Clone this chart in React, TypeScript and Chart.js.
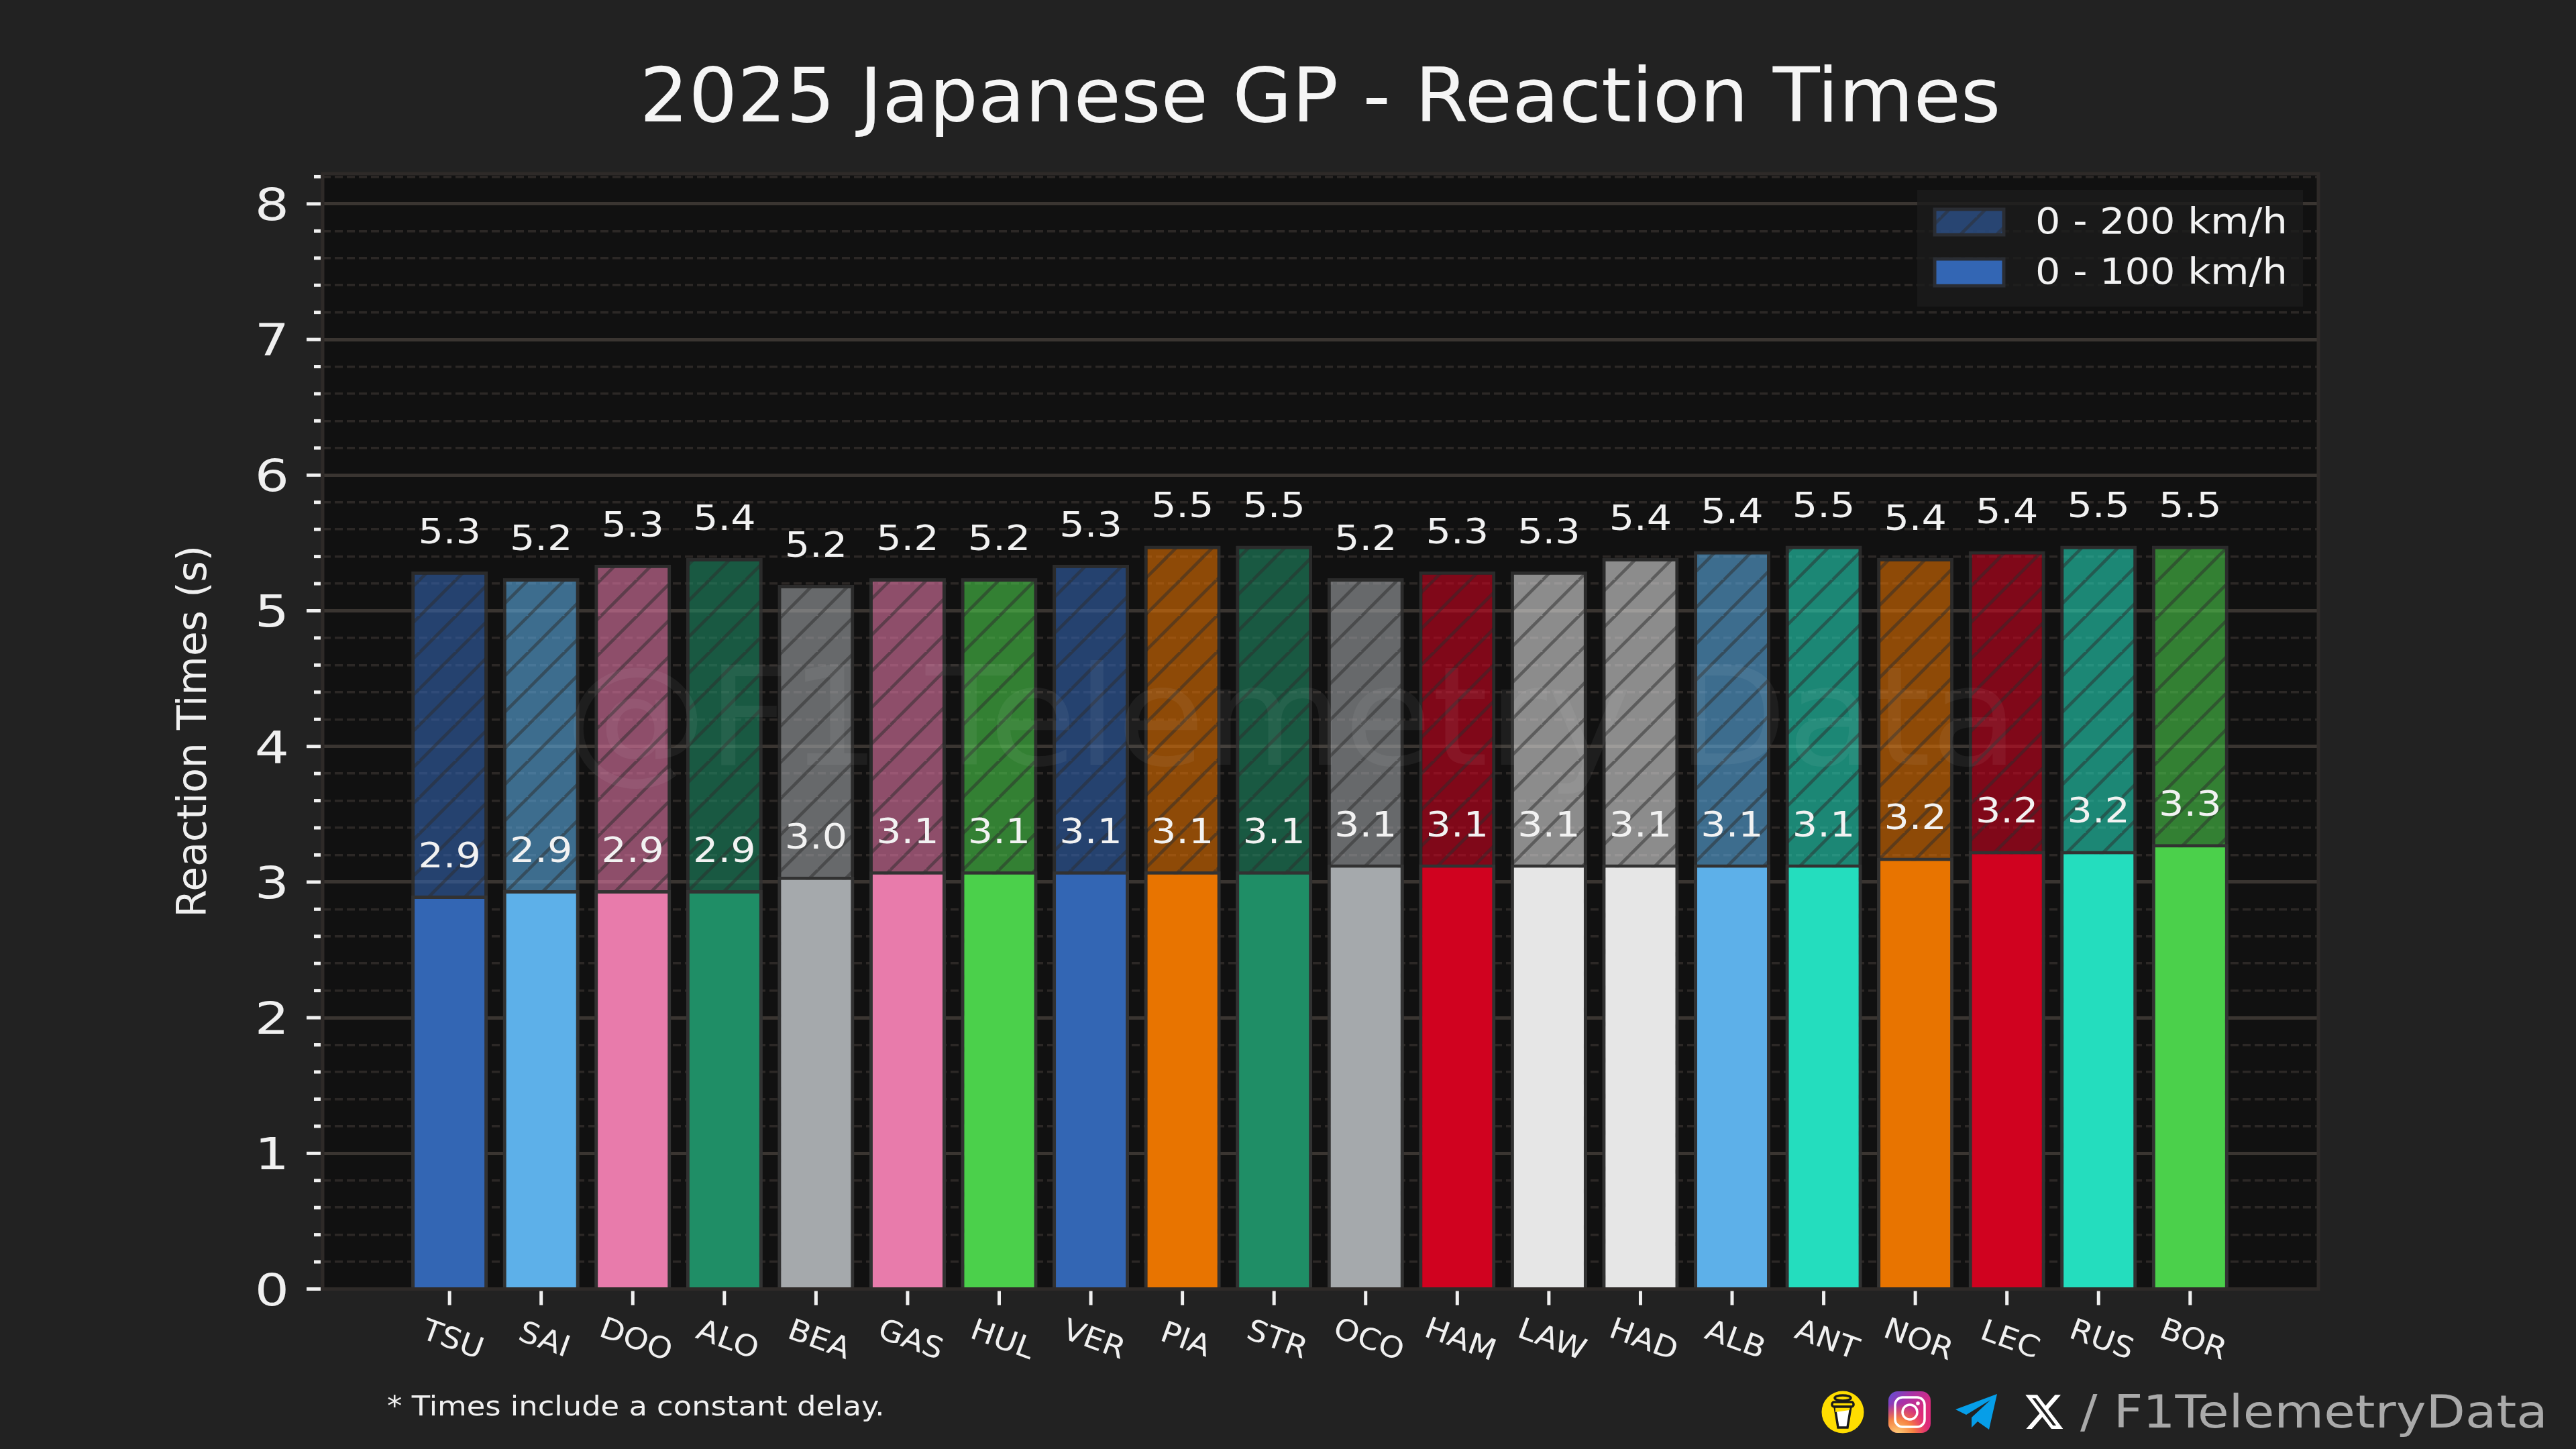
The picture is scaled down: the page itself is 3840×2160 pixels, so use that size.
import { useEffect, useRef } from "react"
import { Chart, registerables } from "chart.js"

Chart.register(...registerables)

const FONT = '"DejaVu Sans"'

const drivers = ["TSU", "SAI", "DOO", "ALO", "BEA", "GAS", "HUL", "VER", "PIA", "STR", "OCO", "HAM", "LAW", "HAD", "ALB", "ANT", "NOR", "LEC", "RUS", "BOR"]
const time0to100 = [2.9, 2.94, 2.94, 2.94, 3.04, 3.08, 3.08, 3.08, 3.08, 3.08, 3.13, 3.13, 3.13, 3.13, 3.13, 3.13, 3.18, 3.23, 3.23, 3.28]
const time0to200 = [5.29, 5.24, 5.34, 5.39, 5.19, 5.24, 5.24, 5.34, 5.48, 5.48, 5.24, 5.29, 5.29, 5.39, 5.44, 5.48, 5.39, 5.44, 5.48, 5.48]
const teamColors = ["#3366b4", "#5db0e9", "#e87bab", "#1f8e66", "#a5a9ac", "#e87bab", "#4bd04b", "#3366b4", "#e87400", "#1f8e66", "#a5a9ac", "#d0021f", "#e6e6e6", "#e6e6e6", "#5db0e9", "#24ddbe", "#e87400", "#d0021f", "#24ddbe", "#4bd04b"]

// hatch tile, anchored on the canvas origin
function hatch(ctx: CanvasRenderingContext2D, color: string) {
  const size = 54
  const tile = document.createElement("canvas")
  tile.width = size
  tile.height = size
  const t = tile.getContext("2d")!
  t.globalAlpha = 0.58
  t.fillStyle = color
  t.fillRect(0, 0, size, size)
  t.globalAlpha = 1
  t.strokeStyle = "rgba(45,45,45,0.5)"
  t.lineWidth = 4.5
  for (let k = -1; k < 2; k++) {
    const c = 32 + k * size
    t.beginPath()
    t.moveTo(c - size, size)
    t.lineTo(c + size, -size)
    t.stroke()
  }
  return ctx.createPattern(tile, "repeat")!
}

function text(ctx: CanvasRenderingContext2D, s: string, x: number, y: number, size: number, color: string, align: CanvasTextAlign = "left", scaleX = 1, angle = 0) {
  ctx.save()
  ctx.font = `${size}px ${FONT}`
  ctx.fillStyle = color
  ctx.textAlign = align
  ctx.textBaseline = "alphabetic"
  ctx.translate(x, y)
  ctx.rotate(angle)
  ctx.scale(scaleX, 1)
  ctx.fillText(s, 0, 0)
  ctx.restore()
}

function drawIcons(ctx: CanvasRenderingContext2D) {
  ctx.save()
  // coffee cup
  ctx.fillStyle = "#ffdd00"
  ctx.beginPath()
  ctx.arc(2747, 2105, 31.5, 0, Math.PI * 2)
  ctx.fill()
  ctx.fillStyle = "#ffffff"
  ctx.strokeStyle = "#1a1a1a"
  ctx.lineWidth = 3.5
  ctx.beginPath()
  ctx.moveTo(2735, 2097)
  ctx.lineTo(2759, 2097)
  ctx.lineTo(2754, 2128)
  ctx.lineTo(2740, 2128)
  ctx.closePath()
  ctx.fill()
  ctx.stroke()
  ctx.fillStyle = "#ffdd00"
  ctx.beginPath()
  ctx.moveTo(2736, 2097)
  ctx.lineTo(2758, 2097)
  ctx.lineTo(2757, 2102)
  ctx.lineTo(2736, 2105)
  ctx.closePath()
  ctx.fill()
  ctx.beginPath()
  ctx.roundRect(2731, 2090, 32, 7, 3)
  ctx.stroke()
  ctx.beginPath()
  ctx.ellipse(2747, 2084, 12, 4, 0, 0, Math.PI * 2)
  ctx.stroke()

  // instagram
  const ig = ctx.createLinearGradient(2815, 2074, 2878, 2136)
  ig.addColorStop(0, "#5b51d8")
  ig.addColorStop(0.3, "#a832a8")
  ig.addColorStop(0.65, "#dd2a7b")
  ig.addColorStop(1, "#dd2a7b")
  ctx.fillStyle = ig
  ctx.beginPath()
  ctx.roundRect(2815, 2074, 63, 62, 14)
  ctx.fill()
  const glow = ctx.createRadialGradient(2828, 2140, 2, 2828, 2140, 48)
  glow.addColorStop(0, "#ffd27a")
  glow.addColorStop(0.5, "rgba(250,140,60,0.9)")
  glow.addColorStop(1, "rgba(250,100,60,0)")
  ctx.save()
  ctx.clip()
  ctx.fillStyle = glow
  ctx.fillRect(2815, 2074, 63, 62)
  ctx.restore()
  ctx.strokeStyle = "#ffffff"
  ctx.lineWidth = 3.5
  ctx.beginPath()
  ctx.roundRect(2825, 2083, 44, 44, 11)
  ctx.stroke()
  ctx.beginPath()
  ctx.arc(2847, 2105, 11, 0, Math.PI * 2)
  ctx.stroke()
  ctx.fillStyle = "#ffffff"
  ctx.beginPath()
  ctx.arc(2859, 2092, 2.8, 0, Math.PI * 2)
  ctx.fill()

  // telegram
  ctx.fillStyle = "#069ee8"
  ctx.beginPath()
  const plane = [[2977, 2078], [2915, 2101], [2931, 2109], [2967, 2087], [2939, 2113], [2939, 2128], [2948, 2119], [2965, 2131]]
  plane.forEach(([px, py], i) => (i ? ctx.lineTo(px, py) : ctx.moveTo(px, py)))
  ctx.closePath()
  ctx.fill()

  // x
  ctx.translate(3016, 2073.5)
  ctx.scale(2.6, 2.6)
  ctx.fillStyle = "#ffffff"
  ctx.fill(new Path2D("M18.244 2.25h3.308l-7.227 8.26 8.502 11.24H16.17l-5.214-6.817L4.99 21.75H1.68l7.73-8.835L1.254 2.25H8.08l4.713 6.231zm-1.161 17.52h1.833L7.084 4.126H5.117z"))
  ctx.restore()
}

const background = {
  id: "background",
  beforeDraw(chart: Chart) {
    const { ctx, chartArea: a } = chart
    ctx.save()
    ctx.fillStyle = "#222222"
    ctx.fillRect(0, 0, chart.width, chart.height)
    ctx.fillStyle = "#111111"
    ctx.fillRect(a.left, a.top, a.right - a.left, a.bottom - a.top)
    ctx.restore()
  },
}

const overlay = {
  id: "overlay",
  afterDatasetsDraw(chart: Chart) {
    const { ctx, chartArea: a } = chart
    const x = chart.scales.x
    const y = chart.scales.y

    // value labels
    for (const values of [time0to200, time0to100]) {
      values.forEach((v, i) => {
        text(ctx, v.toFixed(1), x.getPixelForValue(i), y.getPixelForValue(v) - 42, 52, "#f2f2f2", "center", 1.13)
      })
    }

    // watermark
    text(ctx, "@F1 Telemetry Data", 1925, 1140, 205, "rgba(255,255,255,0.055)", "center", 1.04)

    // spines
    ctx.save()
    ctx.strokeStyle = "#2e2a28"
    ctx.lineWidth = 5
    ctx.strokeRect(a.left, a.top, a.right - a.left, a.bottom - a.top)

    // tick marks, minor ones are shorter
    ctx.strokeStyle = "#f0f0f0"
    ctx.lineWidth = 5
    y.ticks.forEach((t) => {
      const py = y.getPixelForValue(t.value)
      const major = Number.isInteger(t.value)
      ctx.beginPath()
      ctx.moveTo(a.left - 3, py)
      ctx.lineTo(a.left - (major ? 24 : 13), py)
      ctx.stroke()
      if (major) text(ctx, String(t.value), 431, py + 24, 66, "#f0f0f0", "right", 1.22)
    })
    x.ticks.forEach((t) => {
      const px = x.getPixelForValue(t.value)
      ctx.beginPath()
      ctx.moveTo(px, a.bottom + 3)
      ctx.lineTo(px, a.bottom + 24)
      ctx.stroke()
      // matplotlib style clockwise labels
      text(ctx, drivers[t.value], px, 2010, 44, "#f0f0f0", "center", 1.08, (20 * Math.PI) / 180)
    })

    // legend
    ctx.fillStyle = "rgba(28,28,28,0.8)"
    ctx.fillRect(2858, 283, 575, 174)
    ctx.strokeStyle = "#2a2d33"
    ctx.lineWidth = 5
    ctx.fillStyle = hatch(ctx, teamColors[0])
    ctx.fillRect(2884, 312, 103, 38)
    ctx.strokeRect(2884, 312, 103, 38)
    ctx.fillStyle = teamColors[0]
    ctx.fillRect(2884, 386, 103, 40)
    ctx.strokeRect(2884, 386, 103, 40)
    ctx.restore()
    text(ctx, "0 - 200 km/h", 3034, 348, 54, "#f2f2f2", "left", 1.09)
    text(ctx, "0 - 100 km/h", 3034, 423, 54, "#f2f2f2", "left", 1.09)
  },
  afterDraw(chart: Chart) {
    const { ctx } = chart
    text(ctx, "2025 Japanese GP - Reaction Times", 1968, 181, 112, "#f5f5f5", "center", 1.022)
    text(ctx, "* Times include a constant delay.", 577, 2110, 40, "#f0f0f0", "left", 1.12)
    text(ctx, "/ F1TelemetryData", 3101, 2128, 68, "#aaaaaa", "left", 1.115)
    drawIcons(ctx)
  },
}

export default function App() {
  const chartRef = useRef<HTMLCanvasElement>(null)

  useEffect(() => {
    document.body.style.margin = "0"
    document.body.style.background = "#222222"
    if (!chartRef.current) return
    const ctx = chartRef.current.getContext("2d")
    if (!ctx) return

    const chart = new Chart(ctx, {
      type: "bar",
      data: {
        datasets: [
          {
            label: "0 - 200 km/h",
            data: time0to200.map((v, i) => ({ x: i, y: v })),
            backgroundColor: teamColors.map((c) => hatch(ctx, c)),
            borderColor: "rgba(50,50,50,0.8)",
            borderWidth: 5,
            barPercentage: 0.835,
            categoryPercentage: 1,
            grouped: false,
            order: 2,
          },
          {
            label: "0 - 100 km/h",
            data: time0to100.map((v, i) => ({ x: i, y: v })),
            backgroundColor: teamColors,
            borderColor: "rgba(50,50,50,1)",
            borderWidth: 5,
            barPercentage: 0.835,
            categoryPercentage: 1,
            grouped: false,
            order: 1,
          },
        ],
      } as any,
      options: {
        responsive: false,
        animation: false,
        devicePixelRatio: 1,
        layout: { padding: { left: 0, top: 259, right: 384, bottom: 0 } },
        plugins: { legend: { display: false }, tooltip: { enabled: false } },
        scales: {
          x: {
            type: "linear",
            offset: false,
            min: -1.385,
            max: 20.4,
            afterFit: (s: any) => {
              s.height = 2160 - 1921.5
            },
            afterBuildTicks: (s: any) => {
              s.ticks = drivers.map((_, i) => ({ value: i }))
            },
            grid: { display: false },
            border: { display: false },
            ticks: { display: false, autoSkip: false },
          },
          y: {
            min: 0,
            max: 8.222,
            afterFit: (s: any) => {
              s.width = 481
            },
            title: {
              display: true,
              text: "Reaction Times (s)",
              color: "#f0f0f0",
              font: { family: FONT, size: 60 },
              padding: { top: 255, bottom: 0 },
            },
            grid: {
              color: (c: any) => (Number.isInteger(c.tick?.value) ? "#3a3531" : "#2c2826"),
              lineWidth: (c: any) => (Number.isInteger(c.tick?.value) ? 5 : 3.5),
              drawTicks: false,
            },
            border: {
              display: false,
              dash: (c: any) => (Number.isInteger(c.tick?.value) ? [] : [12, 6]),
            },
            ticks: {
              stepSize: 0.2,
              autoSkip: false,
              includeBounds: false,
              display: false,
            },
          },
        },
      } as any,
      plugins: [background, overlay],
    })

    return () => chart.destroy()
  }, [])

  return <canvas ref={chartRef} width={3840} height={2160} style={{ display: "block" }} />
}
